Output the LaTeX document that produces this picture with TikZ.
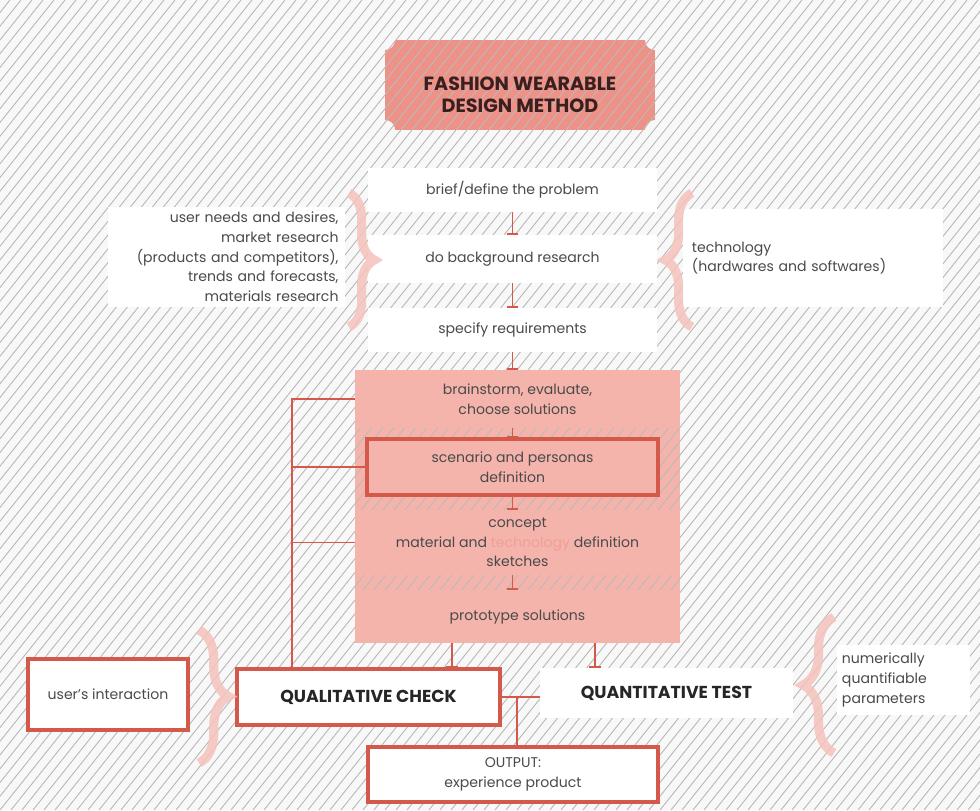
\documentclass[tikz,border=0pt]{standalone}
\usepackage{fontspec}
\setmainfont{Poppins}
\usetikzlibrary{arrows.meta,decorations.pathreplacing}
\definecolor{paper}{HTML}{F8F8F8}
\definecolor{hatch}{HTML}{BABABA}
\definecolor{salmon}{HTML}{EE9186}
\definecolor{blush}{HTML}{F4B4AC}
\definecolor{brick}{HTML}{D4594B}
\definecolor{bracepink}{HTML}{F6C3BC}
\definecolor{ink}{HTML}{4A4A4A}
\definecolor{titleink}{HTML}{3B1F1F}
\definecolor{techpink}{HTML}{F0A096}
\newcommand{\bodyfont}{\fontsize{10}{14}\selectfont}
\newcommand{\capsfont}{\fontsize{12.3}{14}\selectfont\bfseries}
\tikzstyle{stage} = [fill=white, minimum width=7.225cm, align=center,
                 font=\bodyfont, text=ink, inner sep=0pt]
\tikzstyle{section} = [fill=blush, minimum width=8.125cm, align=center,
                 font=\bodyfont, text=ink, inner sep=0pt]
\tikzstyle{frame} = [draw=brick, line width=2.4pt, align=center,
                 font=\bodyfont, text=ink, inner sep=0pt]
\tikzstyle{note} = [fill=white, font=\bodyfont, text=ink, inner ysep=0pt]
\tikzstyle{link} = [draw=brick, line width=1pt]
\tikzstyle{tee} = [link, -{Bar[width=8pt,line width=1pt]}]
\tikzstyle{curly} = [draw=bracepink, line width=6.5pt, decorate, opacity=0.85]

\begin{document}
\begin{tikzpicture}[x=0.025cm, y=-0.025cm]

\useasboundingbox (0,0) rectangle (980,810);
\fill [paper] (0,0) rectangle (980,810);

%banner and pink area
\fill [salmon] (385,40) rectangle (655,130);
\foreach \cx/\cy in {385/40, 655/40, 385/130, 655/130}
	\fill [paper] (\cx,\cy) circle [radius=0.25cm];
\fill [blush] (355,370) rectangle (680,643);

%hatching
\begin{scope}
\clip (0,0) rectangle (980,810);
\foreach \x in {-660,-649,...,990}
	\draw [hatch, line width=0.65pt] (\x,810) -- ++(648,-810);
\end{scope}

\node [font=\fontsize{13.6}{16}\selectfont\bfseries, text=titleink, align=center] at (520,95) (title) {FASHION WEARABLE\\DESIGN METHOD};

\node [stage, minimum height=1.1cm] at (512.5,190) (brief) {brief/define the problem};
\node [stage, minimum height=1.2cm] at (512.5,259) (research) {do background research};
\node [stage, minimum height=1.1cm] at (512.5,330) (spec) {specify requirements};

\node [note, text width=5.6cm, align=right, inner xsep=0.16cm, minimum height=2.5cm] at (226.5,257) (needs) {user needs and desires,\\market research\\(products and competitors),\\trends and forecasts,\\materials research};
\node [note, text width=6.05cm, align=left, inner xsep=0.225cm, minimum height=2.45cm] at (813,258) (tech) {technology\\(hardwares and softwares)};

\node [section, minimum height=1.45cm] at (517.5,399) (brain) {brainstorm, evaluate,\\choose solutions};
\node [frame, fill=blush, minimum width=7.275cm, minimum height=1.4cm] at (512.5,467) (scene) {scenario and personas\\definition};
\node [section, minimum height=1.625cm] at (517.5,542.5) (concept) {concept\\material and \textcolor{techpink}{technology} definition\\sketches};
\node [section, minimum height=1.325cm] at (517.5,616.5) (proto) {prototype solutions};

\node [frame, fill=white, font=\capsfont, text=black!85, minimum width=6.575cm, minimum height=1.4cm] at (368.5,697) (qual) {QUALITATIVE CHECK};
\node [frame, fill=white, minimum width=4cm, minimum height=1.775cm] at (108,694.5) (user) {user's interaction};
\node [note, font=\capsfont, text=black!85, minimum width=6.325cm, minimum height=1.25cm] at (666.5,693) (quant) {QUANTITATIVE TEST};
\node [frame, fill=white, minimum width=7.25cm, minimum height=1.375cm] at (513,774.5) (output) {OUTPUT:\\experience product};
\node [note, text width=3.075cm, align=left, inner xsep=0.125cm, minimum height=1.75cm] at (903.5,680) (params) {numerically\\quantifiable\\parameters};

\coordinate (loop) at (292,399);
\coordinate (qualin) at (452,0);
\coordinate (quantin) at (595,0);
\coordinate (outjoin) at (517,0);

\path [tee] (brief.south) -- (research.north);
\path [tee] (research.south) -- (spec.north);
\path [tee] (spec.south) -- (spec.south |- brain.north);
\path [tee] (brain.south -| scene.north) -- (scene.north);
\path [tee] (scene.south) -- (scene.south |- concept.north);
\path [tee] (concept.south -| scene.south) -- (scene.south |- proto.north);

\path [link] (brain.west) -- (loop) -- (loop |- qual.north);
\path [link] (scene.west) -- (scene.west -| loop);
\path [link] (concept.west) -- (concept.west -| loop);

\path [tee] (proto.south -| qualin) -- (qual.north -| qualin);
\path [tee] (proto.south -| quantin) -- (quant.north -| quantin);
\path [link] (qual.east) -- (qual.east -| quant.west);
\path [link] (qual.east -| outjoin) -- (output.north -| outjoin);

%braces
\draw [curly, decoration={brace, amplitude=18pt}] (349,193) -- (349,327);
\draw [curly, decoration={brace, amplitude=19pt}] (692,327) -- (692,193);
\draw [curly, decoration={brace, amplitude=21pt}] (199,630) -- (199,763);
\draw [curly, decoration={brace, amplitude=22pt}] (834,753) -- (834,617);

\end{tikzpicture}
\end{document}
